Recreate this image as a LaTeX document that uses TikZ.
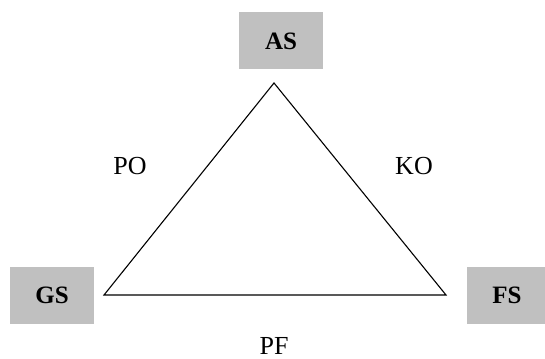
\documentclass[tikz,border=0pt]{standalone}
\usepackage{fontspec}
\setmainfont{Liberation Serif}
\definecolor{boxgray}{RGB}{192,192,192}
\begin{document}
\begin{tikzpicture}[x=1pt,y=-1pt,
  box/.style={fill=boxgray,draw=none,minimum width=84pt,minimum height=57pt,inner sep=0pt,font=\fontsize{25}{28}\selectfont\bfseries},
  lbl/.style={inner sep=0pt,font=\fontsize{26}{30}\selectfont},
  edge/.style={line width=1.1pt}]
\useasboundingbox (0,0) rectangle (545,358);
\node[box] (as) at (281,41) {AS};
\node[box] (gs) at (52,295) {GS};
\node[box,minimum width=80pt] (fs) at (507,295) {FS};
\coordinate (a) at (274,83);
\coordinate (b) at (104,295);
\coordinate (c) at (446,295);
\draw[edge,line join=miter] (a) -- (b) -- (c) -- cycle;
\node[lbl] (po) at (130,166) {PO};
\node[lbl] (ko) at (414,166) {KO};
\node[lbl] (pf) at (274,346) {PF};
\end{tikzpicture}
\end{document}
